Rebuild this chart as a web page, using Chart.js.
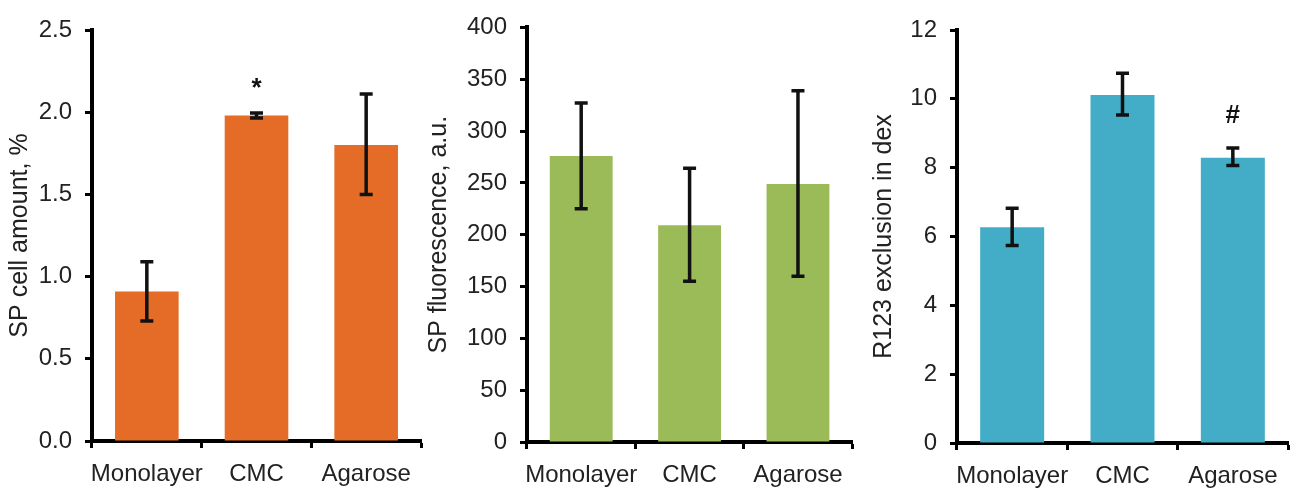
<!DOCTYPE html>
<html>
<head>
<meta charset="utf-8">
<script src="https://cdn.jsdelivr.net/npm/chart.js@4/dist/chart.umd.min.js"></script>
<style>
  html, body { margin: 0; padding: 0; background: #ffffff; }
  body { width: 1298px; height: 489px; position: relative; overflow: hidden; }
  canvas { position: absolute; top: 0; }
</style>
</head>
<body>
<canvas id="c1" width="425" height="489" style="left:0px"></canvas>
<canvas id="c2" width="435" height="489" style="left:420px"></canvas>
<canvas id="c3" width="438" height="489" style="left:860px"></canvas>
<script>
// ---- data ----
const categories = ['Monolayer', 'CMC', 'Agarose'];

const spAmount     = [0.91, 1.98, 1.80];
const spAmountLow  = [0.73, 1.965, 1.50];
const spAmountHigh = [1.09, 1.995, 2.11];
const spAmountMarks = ['', '*', ''];
const spAmountTicks = [0, 0.5, 1.0, 1.5, 2.0, 2.5];

const spFluor     = [276, 209, 249];
const spFluorLow  = [225, 155, 160];
const spFluorHigh = [327, 264, 339];
const spFluorMarks = ['', '', ''];
const spFluorTicks = [0, 50, 100, 150, 200, 250, 300, 350, 400];

const r123     = [6.27, 10.11, 8.29];
const r123Low  = [5.74, 9.53, 8.06];
const r123High = [6.82, 10.74, 8.57];
const r123Marks = ['', '', '#'];
const r123Ticks = [0, 2, 4, 6, 8, 10, 12];

// ---- styling ----
const FONT = '"Liberation Sans", Arial, Helvetica, sans-serif';
const TXT = '#222222';

const errorBarPlugin = {
  id: 'errorBars',
  afterDatasetsDraw(chart, args, opts) {
    const { ctx, scales: { x, y } } = chart;
    ctx.save();
    ctx.strokeStyle = '#111';
    ctx.lineWidth = 3.5;
    ctx.lineCap = 'butt';
    const half = 6.5;
    opts.low.forEach((lo, i) => {
      const hi = opts.high[i];
      const px = x.getPixelForValue(i);
      const yl = y.getPixelForValue(lo);
      const yh = y.getPixelForValue(hi);
      ctx.beginPath();
      ctx.moveTo(px, yl); ctx.lineTo(px, yh);
      ctx.moveTo(px - half, yl); ctx.lineTo(px + half, yl);
      ctx.moveTo(px - half, yh); ctx.lineTo(px + half, yh);
      ctx.stroke();
      const m = opts.marks[i];
      if (m) {
        ctx.fillStyle = '#111';
        ctx.font = 'bold ' + opts.markSize + 'px ' + FONT;
        ctx.textAlign = 'center';
        ctx.textBaseline = 'middle';
        ctx.fillText(m, px, yh - opts.markGap);
      }
    });
    ctx.restore();
  }
};

function makeChart(id, opt) {
  return new Chart(document.getElementById(id), {
    type: 'bar',
    data: {
      labels: categories,
      datasets: [{
        data: opt.values,
        backgroundColor: opt.color,
        borderWidth: 0,
        categoryPercentage: 1.0,
        barPercentage: 0.58
      }]
    },
    options: {
      responsive: false,
      animation: false,
      devicePixelRatio: 1,
      layout: { padding: { top: opt.padTop, right: opt.padRight, left: 0, bottom: 0 } },
      plugins: {
        legend: { display: false },
        tooltip: { enabled: false },
        errorBars: { low: opt.low, high: opt.high, marks: opt.marks, markGap: opt.markGap, markSize: opt.markSize }
      },
      scales: {
        x: {
          type: 'category',
          offset: true,
          grid: {
            offset: true,
            drawOnChartArea: false,
            drawTicks: true,
            tickLength: 7,
            tickWidth: 3,
            tickColor: '#000'
          },
          border: { display: true, color: '#000', width: 4 },
          ticks: {
            color: TXT,
            font: { family: FONT, size: 24 },
            padding: 12,
            maxRotation: 0,
            autoSkip: false
          },
          afterFit(scale) { scale.height = opt.xHeight; }
        },
        y: {
          min: opt.ticks[0],
          max: opt.ticks[opt.ticks.length - 1],
          afterBuildTicks(scale) { scale.ticks = opt.ticks.map(v => ({ value: v })); },
          grid: {
            drawOnChartArea: false,
            drawTicks: true,
            tickLength: 7,
            tickWidth: 3,
            tickColor: '#000'
          },
          border: { display: true, color: '#000', width: 4 },
          ticks: {
            color: TXT,
            font: { family: FONT, size: 24 },
            padding: 13,
            callback: opt.fmt
          },
          title: {
            display: true,
            text: opt.title,
            color: TXT,
            font: { family: FONT, size: 25, lineHeight: 1.2 },
            padding: { top: opt.titlePad, bottom: 0 }
          },
          afterFit(scale) { scale.width = opt.yWidth; }
        }
      }
    },
    plugins: [errorBarPlugin]
  });
}

makeChart('c1', {
  values: spAmount, low: spAmountLow, high: spAmountHigh, marks: spAmountMarks, markGap: 24, markSize: 26,
  ticks: spAmountTicks, fmt: v => Number(v).toFixed(1),
  color: '#E46C26', title: 'SP cell amount, %',
  padTop: 30, padRight: 4, xHeight: 48, yWidth: 92, titlePad: 5
});

makeChart('c2', {
  values: spFluor, low: spFluorLow, high: spFluorHigh, marks: spFluorMarks, markGap: 25, markSize: 26,
  ticks: spFluorTicks, fmt: v => String(v),
  color: '#9BBB59', title: 'SP fluorescence, a.u.',
  padTop: 22, padRight: 2, xHeight: 47, yWidth: 107, titlePad: 4
});

makeChart('c3', {
  values: r123, low: r123Low, high: r123High, marks: r123Marks, markGap: 32, markSize: 26,
  ticks: r123Ticks, fmt: v => String(v),
  color: '#43ACC6', title: 'R123 exclusion in dex',
  padTop: 30, padRight: 10, xHeight: 46, yWidth: 97, titlePad: 9
});
</script>
</body>
</html>
